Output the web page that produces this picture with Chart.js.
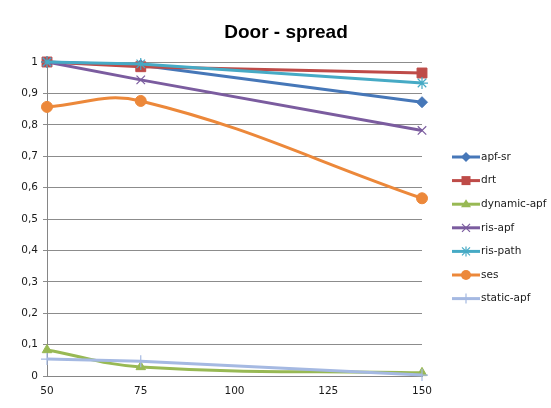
<!DOCTYPE html>
<html><head><meta charset="utf-8">
<script src="https://cdn.jsdelivr.net/npm/chart.js@4/dist/chart.umd.min.js"></script>
<style>html,body{margin:0;padding:0;background:#fff}#wrap{width:551px;height:408px}</style>
</head><body><div id="wrap"><canvas id="c" width="551" height="408"></canvas></div>
<script>
const xValues = [50, 75, 150];
const xTicks = [50, 75, 100, 125, 150];
const seriesNames = ['apf-sr','drt','dynamic-apf','ris-apf','ris-path','ses','static-apf'];
const apfSr = [1, 0.99, 0.872];
const drt = [1, 0.985, 0.965];
const dynamicApf = [0.083, 0.029, 0.01];
const risApf = [1, 0.943, 0.782];
const risPath = [1, 0.994, 0.933];
const ses = [0.857, 0.876, 0.566];
const staticApf = [0.054, 0.047, 0.003];
const titleText = 'Door - spread';

const colors = ['#4677b8','#be4b48','#98b954','#7b5c9f','#46aac5','#ec883a','#a5b9e2'];
const styles = ['rectRot','rect','triangle','crossRot','star','circle','cross'];
const radii = [5.5,7,5.5,6,6,5.5,6];
const tensions = [0,0,0.4,0,0,0.4,0];
const values = [apfSr, drt, dynamicApf, risApf, risPath, ses, staticApf];

const datasets = seriesNames.map((n,i)=>({
  label:n,
  data: xValues.map((x,j)=>({x:x,y:values[i][j]})),
  borderColor:colors[i], backgroundColor:colors[i],
  borderWidth:3, pointStyle:styles[i], pointRadius:radii[i],
  pointBorderWidth: (styles[i]==='crossRot'||styles[i]==='star'||styles[i]==='cross')?1.2:1,
  tension:tensions[i], order: 10-i, clip:false
}));

function drawMarker(ctx, style, x, y, r, color){
  ctx.save();
  ctx.fillStyle=color; ctx.strokeStyle=color; ctx.lineWidth=1.2;
  ctx.beginPath();
  if(style==='rectRot'){ctx.moveTo(x,y-r);ctx.lineTo(x+r,y);ctx.lineTo(x,y+r);ctx.lineTo(x-r,y);ctx.closePath();ctx.fill();}
  else if(style==='rect'){const s=r*0.9;ctx.rect(x-s,y-s,2*s,2*s);ctx.fill();}
  else if(style==='triangle'){ctx.moveTo(x,y-r);ctx.lineTo(x+r,y+r*0.6);ctx.lineTo(x-r,y+r*0.6);ctx.closePath();ctx.fill();}
  else if(style==='crossRot'){const s=r*0.8;ctx.moveTo(x-s,y-s);ctx.lineTo(x+s,y+s);ctx.moveTo(x+s,y-s);ctx.lineTo(x-s,y+s);ctx.stroke();}
  else if(style==='star'){const s=r*0.8;ctx.moveTo(x-s,y-s);ctx.lineTo(x+s,y+s);ctx.moveTo(x+s,y-s);ctx.lineTo(x-s,y+s);ctx.moveTo(x,y-r);ctx.lineTo(x,y+r);ctx.stroke();}
  else if(style==='circle'){ctx.arc(x,y,r,0,Math.PI*2);ctx.fill();}
  else if(style==='cross'){ctx.moveTo(x-r,y);ctx.lineTo(x+r,y);ctx.moveTo(x,y-r);ctx.lineTo(x,y+r);ctx.stroke();}
  ctx.restore();
}

const customDeco = {
  id:'customDeco',
  afterDraw(chart){
    const ctx=chart.ctx;
    ctx.save();
    ctx.font='bold 19px "Liberation Sans", Arial, sans-serif';
    ctx.fillStyle='#000'; ctx.textAlign='center'; ctx.textBaseline='middle';
    ctx.fillText(titleText, 286, 33);
    ctx.font='10.5px "DejaVu Sans", sans-serif';
    ctx.textAlign='left';
    seriesNames.forEach((n,i)=>{
      const y=157+i*23.6;
      ctx.strokeStyle=colors[i]; ctx.lineWidth=3;
      ctx.beginPath(); ctx.moveTo(452,y); ctx.lineTo(480,y); ctx.stroke();
      drawMarker(ctx, styles[i], 466, y, 5, colors[i]);
      ctx.fillStyle='#1a1a1a';
      ctx.fillText(n, 481, y);
    });
    ctx.restore();
  }
};

new Chart(document.getElementById('c'),{
  type:'line',
  data:{datasets},
  options:{
    responsive:false, animation:false, devicePixelRatio:1,
    layout:{padding:{top:62,right:129,left:0,bottom:0}},
    plugins:{legend:{display:false},title:{display:false},tooltip:{enabled:false}},
    scales:{
      x:{type:'linear',min:50,max:150,
        afterBuildTicks(s){s.ticks=xTicks.map(v=>({value:v}));},
        afterFit(s){s.height=32;},
        grid:{display:false,drawTicks:false},
        border:{display:true,color:'#868686',width:1},
        ticks:{padding:9,color:'#1a1a1a',font:{family:'"DejaVu Sans", sans-serif',size:10.5},maxRotation:0,autoSkip:false}
      },
      y:{min:0,max:1,
        afterFit(s){s.width=47;},
        grid:{color:'#8c8c8c',lineWidth:1,tickLength:4,drawTicks:true},
        border:{display:true,color:'#868686',width:1},
        ticks:{stepSize:0.1,padding:5,color:'#1a1a1a',font:{family:'"DejaVu Sans", sans-serif',size:10.5},
          callback:v=>{const r=Math.round(v*10)/10;return String(r).replace('.',',');}}
      }
    }
  },
  plugins:[customDeco]
});
</script></body></html>
